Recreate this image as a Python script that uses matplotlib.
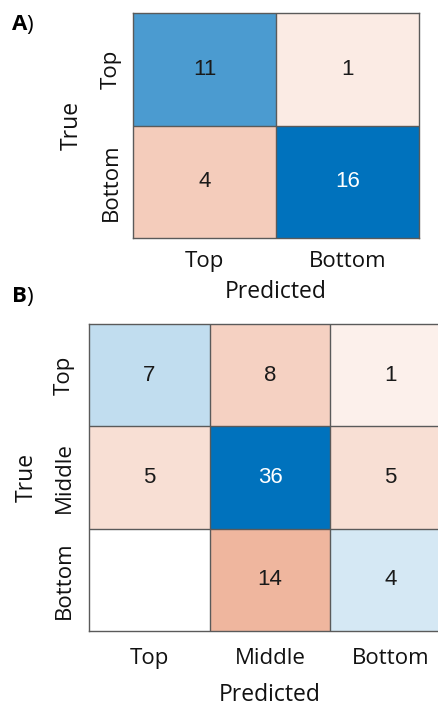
import matplotlib.pyplot as plt
import numpy as np
from matplotlib.colors import LinearSegmentedColormap

# confusion counts, rows = true class, columns = predicted class
labels_a = ['Top', 'Bottom']
counts_a = [[11, 1],
            [4, 16]]

labels_b = ['Top', 'Middle', 'Bottom']
counts_b = [[7, 8, 1],
            [5, 36, 5],
            [0, 14, 4]]

label_font = 'Open Sans'
num_font = 'Liberation Sans'

# MATLAB confusionchart style: diagonal shaded blue, off-diagonal shaded orange-red
diag_cmap = LinearSegmentedColormap.from_list('diag', ['#ffffff', '#0072bd'])
off_cmap = LinearSegmentedColormap.from_list('off', ['#ffffff', '#d95319'])


def draw_matrix(ax, counts, labels, fs_tick, fs_num, fs_label, ypad, xpad, lpad_y, lpad_x):
    m = np.array(counts, dtype=float)
    n = len(labels)
    eye = np.eye(n, dtype=bool)
    vmax = m.max()
    # nonzero cells get a faint tint even at small counts; empty cells stay white
    vmin = -0.064 * vmax
    diag = np.ma.masked_where(~eye | (m == 0), m)
    off = np.ma.masked_where(eye | (m == 0), m)
    ax.pcolormesh(diag, cmap=diag_cmap, vmin=vmin, vmax=vmax)
    ax.pcolormesh(off, cmap=off_cmap, vmin=vmin, vmax=vmax)
    # cell grid
    for k in range(1, n):
        ax.axvline(k, color='#5a5a5a', lw=1.0)
        ax.axhline(k, color='#5a5a5a', lw=1.0)
    ax.set_xlim(0, n)
    ax.set_ylim(n, 0)
    for i in range(n):
        for j in range(n):
            v = counts[i][j]
            if v == 0:
                continue
            col = 'white' if v / vmax > 0.8 else '#1a1a1a'
            ax.text(j + 0.5, i + 0.5, str(v), ha='center', va='center',
                    fontsize=fs_num, color=col, family=num_font)
    ax.set_xticks(np.arange(n) + 0.5)
    ax.set_yticks(np.arange(n) + 0.5)
    ax.set_xticklabels(labels, fontsize=fs_tick, family=label_font, color='#111111')
    ax.set_yticklabels(labels, fontsize=fs_tick, family=label_font, color='#111111',
                       rotation=90, va='center')
    ax.tick_params(length=0)
    ax.tick_params(axis='y', pad=ypad)
    ax.tick_params(axis='x', pad=xpad)
    ax.set_xlabel('Predicted', fontsize=fs_label, family=label_font, labelpad=lpad_x, color='#111111')
    ax.set_ylabel('True', fontsize=fs_label, family=label_font, labelpad=lpad_y, color='#111111')
    for s in ax.spines.values():
        s.set_color('#5a5a5a')
        s.set_linewidth(1.0)


fig = plt.figure(figsize=(4.39, 7.08), dpi=100)

ax_a = fig.add_axes([133 / 439, 1 - 238 / 708, 286 / 439, 225 / 708])
draw_matrix(ax_a, counts_a, labels_a, 16, 16, 16.5, ypad=8, xpad=9, lpad_y=12, lpad_x=6)

ax_b = fig.add_axes([89 / 439, 1 - 631 / 708, 362 / 439, 307 / 708])
draw_matrix(ax_b, counts_b, labels_b, 16, 16, 16.5, ypad=10, xpad=12, lpad_y=11, lpad_x=10)

# panel letters
for y, letter in [(25, 'A'), (297, 'B')]:
    fig.text(12 / 439, 1 - y / 708, letter, fontsize=16, fontweight='bold',
             family=label_font, va='center', ha='left')
    fig.text(26 / 439, 1 - y / 708, ')', fontsize=16, family=label_font,
             va='center', ha='left')

fig.savefig('out.png', dpi=100)
